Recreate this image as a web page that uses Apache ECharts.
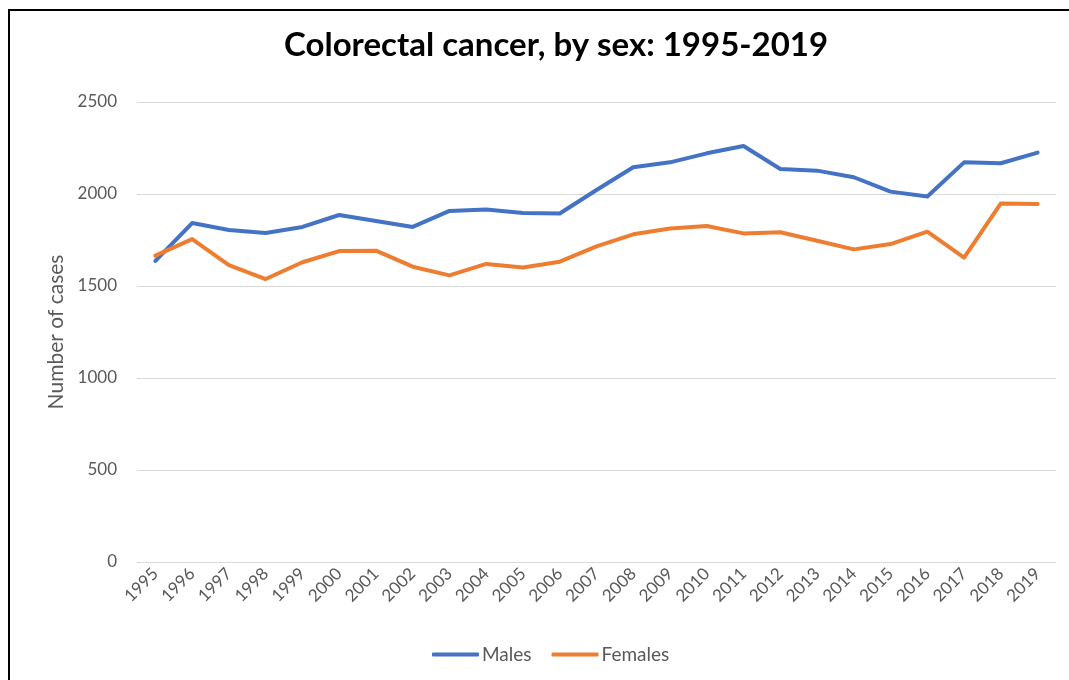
<!DOCTYPE html>
<html>
<head>
<meta charset="utf-8">
<script src="https://cdn.jsdelivr.net/npm/echarts@6/dist/echarts.min.js"></script>
<style>
  html, body { margin: 0; padding: 0; background: #fff; }
  #chart { width: 1069px; height: 680px; }
</style>
</head>
<body>
<div id="chart"></div>
<script>
// 年份
var years = ['1995', '1996', '1997', '1998', '1999', '2000', '2001', '2002', '2003', '2004',
    '2005', '2006', '2007', '2008', '2009', '2010', '2011', '2012', '2013', '2014',
    '2015', '2016', '2017', '2018', '2019'];

// 男性病例
var males = [1636, 1842, 1804, 1788, 1821, 1886, 1853, 1821, 1908, 1916,
    1897, 1894, 2022, 2145, 2172, 2221, 2261, 2136, 2127, 2091,
    2013, 1986, 2172, 2167, 2225];

// 女性病例
var females = [1665, 1755, 1614, 1538, 1629, 1690, 1692, 1605, 1558, 1620,
    1601, 1632, 1715, 1781, 1813, 1826, 1786, 1792, 1746, 1699,
    1728, 1795, 1654, 1949, 1946];

var yTicks = [0, 500, 1000, 1500, 2000, 2500];

var font = 'Lato, "Open Sans", sans-serif';
var chart = echarts.init(document.getElementById('chart'));

var option = {
    backgroundColor: '#fff',
    animation: false,
    title: {
        text: 'Colorectal cancer, by sex: 1995-2019',
        left: 279,
        top: 24,
        textStyle: { fontFamily: font, fontSize: 33, fontWeight: 'bold', color: '#000' }
    },
    legend: {
        bottom: 11,
        left: 427,
        itemWidth: 47,
        itemHeight: 4,
        itemGap: 20,
        icon: 'roundRect',
        textStyle: { fontFamily: font, fontSize: 19, color: '#595959', padding: [0, 0, 0, -2] },
        data: ['Males', 'Females']
    },
    grid: { left: 137, right: 13, top: 102, bottom: 118 },
    xAxis: {
        type: 'category',
        data: years,
        boundaryGap: true,
        axisLine: { show: false },
        axisTick: { show: false },
        axisLabel: { rotate: 45, fontFamily: font, fontSize: 17, color: '#595959', margin: 9 }
    },
    yAxis: {
        type: 'value',
        min: yTicks[0],
        max: yTicks[yTicks.length - 1],
        interval: 500,
        name: 'Number of cases',
        nameLocation: 'middle',
        nameGap: 70,
        nameTextStyle: { fontFamily: font, fontSize: 21, color: '#595959' },
        axisLine: { show: false },
        axisTick: { show: false },
        axisLabel: {
            fontFamily: font, fontSize: 17, color: '#595959', margin: 20,
            formatter: function (v) { return String(v); }
        },
        splitLine: { lineStyle: { color: '#d9d9d9', width: 1 } }
    },
    graphic: [{
        type: 'rect',
        shape: { x: 9, y: 10, width: 1080, height: 700 },
        style: { fill: 'none', stroke: '#000', lineWidth: 2 },
        silent: true
    }],
    series: [{
        name: 'Males',
        type: 'line',
        data: males,
        showSymbol: false,
        symbol: 'none',
        lineStyle: { color: '#4472C4', width: 4, cap: 'round', join: 'round' },
        itemStyle: { color: '#4472C4' }
    }, {
        name: 'Females',
        type: 'line',
        data: females,
        showSymbol: false,
        symbol: 'none',
        lineStyle: { color: '#ED7D31', width: 4, cap: 'round', join: 'round' },
        itemStyle: { color: '#ED7D31' }
    }]
};

chart.setOption(option);
</script>
</body>
</html>
